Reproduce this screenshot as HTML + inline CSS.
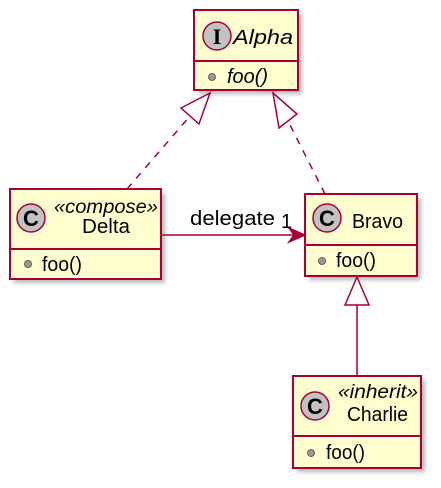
<!DOCTYPE html>
<html><head><style>html,body{margin:0;padding:0;background:#fff}svg{display:block}</style></head><body>
<svg width="441" height="488" viewBox="0 0 441 488" xmlns="http://www.w3.org/2000/svg" font-family="'Liberation Sans',sans-serif">
<defs><filter id="s" x="-10%" y="-10%" width="130%" height="130%"><feGaussianBlur stdDeviation="2"/></filter></defs>
<g fill="#888" opacity="0.6" filter="url(#s)">
<rect x="198" y="14" width="104" height="80"/>
<rect x="14" y="193" width="151" height="90"/>
<rect x="309" y="198" width="112" height="82"/>
<rect x="297" y="380" width="128" height="92"/>
</g>
<g stroke="#A80036" fill="#FEFECE" stroke-width="2">
<rect x="194" y="10" width="104" height="80"/>
<line x1="194" y1="61" x2="298" y2="61"/>
<rect x="10" y="189" width="151" height="90"/>
<line x1="10" y1="249" x2="161" y2="249"/>
<rect x="305" y="194" width="112" height="82"/>
<line x1="305" y1="245" x2="417" y2="245"/>
<rect x="293" y="376" width="128" height="92"/>
<line x1="293" y1="436" x2="421" y2="436"/>
</g>
<g stroke="#A80036" stroke-width="1.5" fill="#c2c2c2">
<circle cx="217" cy="36" r="14"/>
<circle cx="31" cy="218" r="14"/>
<circle cx="327" cy="218" r="14"/>
<circle cx="315" cy="406" r="14"/>
</g>
<g font-weight="bold" font-size="22" text-anchor="middle" fill="#000">
<text x="217" y="44" font-family="'Liberation Serif',serif">I</text>
<text x="31" y="226">C</text>
<text x="327" y="226">C</text>
<text x="315" y="414">C</text>
</g>
<g font-size="20" fill="#000">
<text x="233" y="44" font-style="italic" textLength="60" lengthAdjust="spacingAndGlyphs">Alpha</text>
<text x="227" y="83" font-style="italic" textLength="41" lengthAdjust="spacingAndGlyphs">foo()</text>
<text x="54" y="213" font-style="italic" font-size="19" textLength="104" lengthAdjust="spacingAndGlyphs">«compose»</text>
<text x="82" y="233" textLength="48" lengthAdjust="spacingAndGlyphs">Delta</text>
<text x="42" y="271" textLength="40" lengthAdjust="spacingAndGlyphs">foo()</text>
<text x="352" y="228" textLength="51" lengthAdjust="spacingAndGlyphs">Bravo</text>
<text x="336" y="267" textLength="40" lengthAdjust="spacingAndGlyphs">foo()</text>
<text x="338" y="398" font-style="italic" font-size="19" textLength="80" lengthAdjust="spacingAndGlyphs">«inherit»</text>
<text x="347" y="421" textLength="61" lengthAdjust="spacingAndGlyphs">Charlie</text>
<text x="326" y="459" textLength="39" lengthAdjust="spacingAndGlyphs">foo()</text>
</g>
<g fill="#999" stroke="#444" stroke-width="0.8">
<circle cx="212" cy="77" r="3.5"/>
<circle cx="28" cy="264" r="3.5"/>
<circle cx="322" cy="261" r="3.5"/>
<circle cx="311" cy="453" r="3.5"/>
</g>
<g stroke="#A80036" stroke-width="1.5" fill="none">
<line x1="127" y1="189" x2="190" y2="116" stroke-dasharray="7,7"/>
<polygon points="210,93 181,108 199,124" fill="#fff"/>
<line x1="325" y1="194" x2="288" y2="121" stroke-dasharray="7,7"/>
<polygon points="273,93 297,114 279,128" fill="#fff"/>
<line x1="161" y1="235" x2="303" y2="235"/>
<polygon points="305,235 289,228 294,235 289,242" fill="#A80036"/>
<line x1="357" y1="376" x2="357" y2="305"/>
<polygon points="357,277 345,305 369,305" fill="#fff"/>
</g>
<text x="190" y="225" font-size="20" fill="#000" textLength="85" lengthAdjust="spacingAndGlyphs">delegate</text>
<text x="281" y="228" font-size="20" fill="#000">1</text>
</svg>
</body></html>
